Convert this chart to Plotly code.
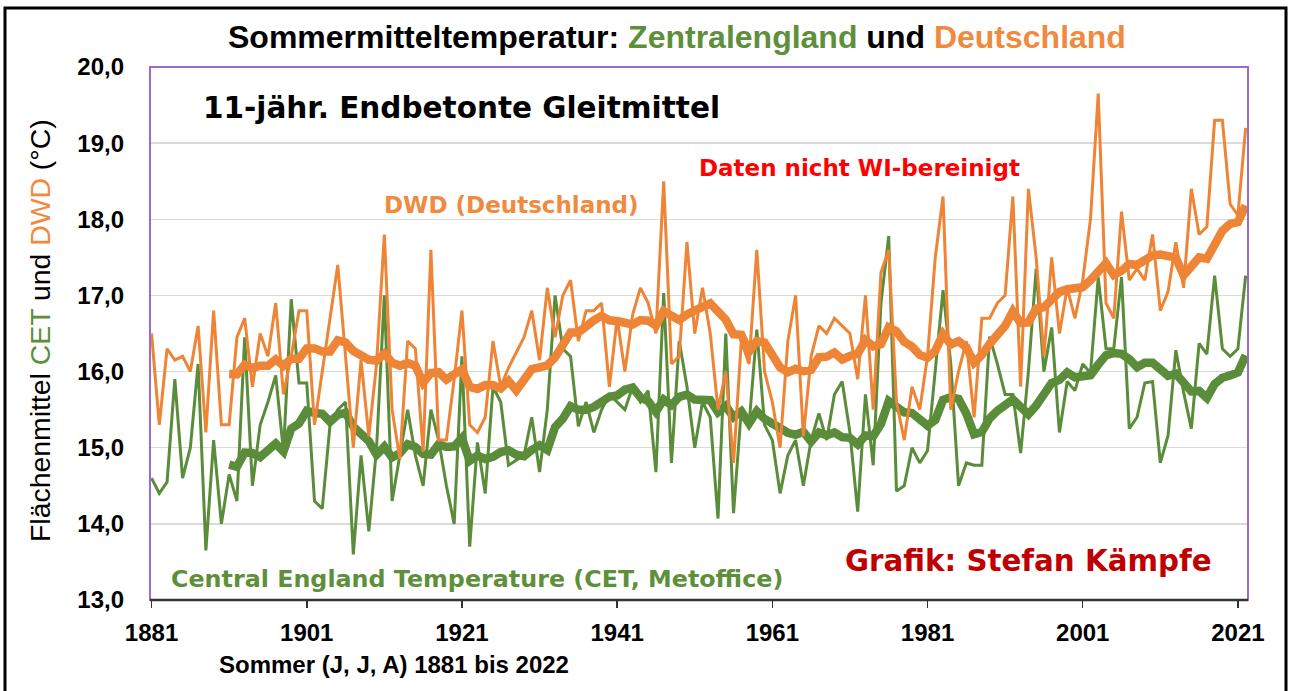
import plotly.graph_objects as go
import pandas as pd

years = list(range(1881, 2023))

# Central England Temperature, summer (JJA) means, degC
cet = [14.6, 14.4, 14.55, 15.9, 14.6, 15.0, 16.1, 13.65, 15.1, 14.0,
       14.65, 14.3, 16.45, 14.5, 15.3, 15.6, 15.95, 14.95, 16.95, 15.85,
       15.85, 14.3, 14.2, 15.3, 15.5, 15.6, 13.6, 14.9, 13.9, 15.0,
       17.0, 14.3, 14.9, 15.5, 14.9, 14.5, 15.5, 15.1, 14.5, 14.0,
       16.2, 13.7, 15.07, 14.4, 15.8, 15.6, 14.77, 14.84, 14.9, 15.4,
       14.68, 15.5, 17.0, 16.3, 16.2, 15.28, 15.6, 15.2, 15.5, 15.7,
       15.6, 15.5, 15.8, 15.6, 15.75, 14.68, 17.03, 14.8, 16.4, 15.8,
       15.0, 15.6, 15.4, 14.07, 16.5, 14.14, 15.5, 15.3, 16.55, 15.3,
       15.1, 14.4, 14.9, 15.1, 14.5, 15.1, 15.45, 15.1, 15.7, 15.87,
       15.2, 14.16, 15.7, 14.77, 16.9, 17.78, 14.43, 14.5, 15.0, 14.8,
       14.96, 16.0, 17.07, 16.1, 14.5, 14.8, 14.77, 14.77, 16.46, 16.1,
       15.7, 15.7, 14.93, 16.0, 17.35, 16.0, 16.58, 15.2, 15.87, 15.75,
       16.1, 15.98, 17.24, 16.3, 16.3, 17.24, 15.25, 15.4, 15.85, 15.87,
       14.8, 15.16, 16.28, 15.73, 15.25, 16.37, 16.23, 17.26, 16.3, 16.2,
       16.3, 17.26]

# DWD Germany area mean, summer (JJA), degC
dwd = [16.5, 15.3, 16.3, 16.15, 16.2, 16.0, 16.6, 15.2, 16.8, 15.3,
       15.3, 16.45, 16.7, 15.8, 16.5, 16.2, 16.9, 15.7, 16.2, 16.8,
       16.8, 15.3, 16.0, 16.7, 17.4, 16.2, 15.0, 16.15, 15.15, 16.1,
       17.8, 15.5, 14.85, 16.4, 16.3, 14.95, 17.6, 15.1, 15.1, 15.9,
       16.8, 15.3, 15.2, 15.4, 16.4, 15.8, 16.05, 16.25, 16.45, 16.8,
       16.15, 17.1, 16.45, 17.0, 17.2, 16.4, 16.8, 16.8, 16.9, 15.8,
       16.7, 16.0, 16.75, 17.1, 16.9, 16.5, 18.5, 16.1, 16.2, 17.7,
       16.5, 17.1, 16.5, 15.5, 16.0, 14.8, 16.4, 16.1, 17.6, 16.0,
       15.6, 15.0, 16.4, 17.0, 15.15, 16.2, 16.6, 16.5, 16.7, 16.6,
       16.5, 15.9, 17.0, 15.5, 17.3, 17.6, 15.6, 15.1, 15.8, 15.5,
       16.2, 17.5, 18.3, 15.5, 16.0, 16.4, 15.4, 16.7, 16.7, 16.9,
       17.0, 18.3, 15.8, 18.4, 17.5, 16.2, 17.5, 16.5, 17.1, 16.7,
       17.2, 18.0, 19.65, 16.9, 16.7, 18.1, 17.2, 17.35, 17.2, 17.8,
       16.8, 17.05, 17.7, 17.1, 18.4, 17.8, 17.9, 19.3, 19.3, 18.2,
       18.05, 19.2]

x_tick_years = [1881, 1901, 1921, 1941, 1961, 1981, 2001, 2021]
y_ticks = [13, 14, 15, 16, 17, 18, 19, 20]

assert len(cet) == len(years) and len(dwd) == len(years)

WINDOW = 11
df = pd.DataFrame({"year": years, "cet": cet, "dwd": dwd})
df["cet_ma"] = df["cet"].rolling(WINDOW).mean()
df["dwd_ma"] = df["dwd"].rolling(WINDOW).mean()
ma = df.dropna()

GREEN = "#5A8C39"
ORANGE = "#EE8435"
GREEN_T = "#5E8F3B"
ORANGE_T = "#F08A3E"

fig = go.Figure()
fig.add_trace(go.Scatter(x=df["year"], y=df["cet"], mode="lines",
                         line=dict(color=GREEN, width=3), showlegend=False))
fig.add_trace(go.Scatter(x=ma["year"], y=ma["cet_ma"], mode="lines",
                         line=dict(color=GREEN, width=8.5), showlegend=False))
fig.add_trace(go.Scatter(x=df["year"], y=df["dwd"], mode="lines",
                         line=dict(color=ORANGE, width=3), showlegend=False))
fig.add_trace(go.Scatter(x=ma["year"], y=ma["dwd_ma"], mode="lines",
                         line=dict(color=ORANGE, width=8.5), showlegend=False))

L, R, T, B = 150, 42, 67, 91
W, H = 1290, 691
PW, PH = W - L - R, H - T - B


def px(x):
    return (x - L) / PW


def py(y):
    return (H - B - y) / PH


def ann(text, x, y, size, color, family="DejaVu Sans", bold=True, **kw):
    fig.add_annotation(
        text=text, x=px(x), y=py(y), xref="paper", yref="paper",
        showarrow=False, xanchor=kw.pop("xanchor", "center"), yanchor="middle",
        font=dict(family=family, size=size, color=color,
                  weight="bold" if bold else "normal"),
        **kw)


ann("Sommermitteltemperatur: <span style='color:%s'>Zentralengland</span> und "
    "<span style='color:%s'>Deutschland</span>" % (GREEN_T, ORANGE_T),
    677, 37, 32, "black", family="Liberation Sans, Arial")
ann("11-jähr. Endbetonte Gleitmittel", 461, 108, 29.5, "black")
ann("DWD (Deutschland)", 511, 205, 23, ORANGE_T)
ann("Daten nicht WI-bereinigt", 859, 168, 23, "#FF0000")
ann("Central England Temperature (CET, Metoffice)", 477, 579, 23.8, GREEN_T)
ann("Grafik: Stefan Kämpfe", 1028, 561, 29.3, "#C00000")
ann("Sommer (J, J, A) 1881 bis 2022", 217, 664, 24, "black",
    family="Liberation Sans, Arial", xanchor="left")
ann("Flächenmittel <span style='color:%s'>CET</span> und "
    "<span style='color:%s'>DWD</span> (°C)" % (GREEN_T, ORANGE_T),
    40, 331, 28.4, "black", family="Liberation Sans, Arial", bold=False,
    textangle=-90)

# plot-area border (purple) and x-axis line
fig.add_shape(type="rect", xref="paper", yref="paper", x0=0, x1=1, y0=0, y1=1,
              line=dict(color="#9B6BD0", width=2), layer="above")
fig.add_shape(type="line", xref="paper", yref="paper", x0=0, x1=1, y0=0, y1=0,
              line=dict(color="#333333", width=2.5), layer="above")
# outer frame
fig.add_shape(type="rect", xref="paper", yref="paper",
              x0=px(5), x1=px(1286), y0=py(700), y1=py(8),
              line=dict(color="black", width=3), layer="above")

fig.update_layout(
    width=W, height=H,
    margin=dict(l=L, r=R, t=T, b=B, pad=0),
    paper_bgcolor="white", plot_bgcolor="white",
    separators=", ",
    showlegend=False,
    hovermode=False,
    xaxis=dict(range=[1880.8, 2022.3], tickmode="array", tickvals=x_tick_years,
               ticks="outside", ticklen=7, tickwidth=1.5, tickcolor="#333333",
               showgrid=False, zeroline=False, showline=False,
               ticklabelstandoff=4,
               tickfont=dict(family="Liberation Sans, Arial", size=24,
                             color="black", weight="bold")),
    yaxis=dict(range=[13, 20], tickmode="array", tickvals=y_ticks,
               tickformat=".1f", showgrid=True, gridcolor="#DADADA",
               gridwidth=1.5, zeroline=False, showline=False, ticks="",
               ticklabelstandoff=25,
               tickfont=dict(family="Liberation Sans, Arial", size=24,
                             color="black", weight="bold")),
)

# remove the browser's default 8px page margin so the figure sits at (0, 0)
fig.write_html("out.html",
               config={"displayModeBar": False, "staticPlot": True},
               post_script="document.body.style.margin='0';"
                           "document.body.style.overflow='hidden';")
